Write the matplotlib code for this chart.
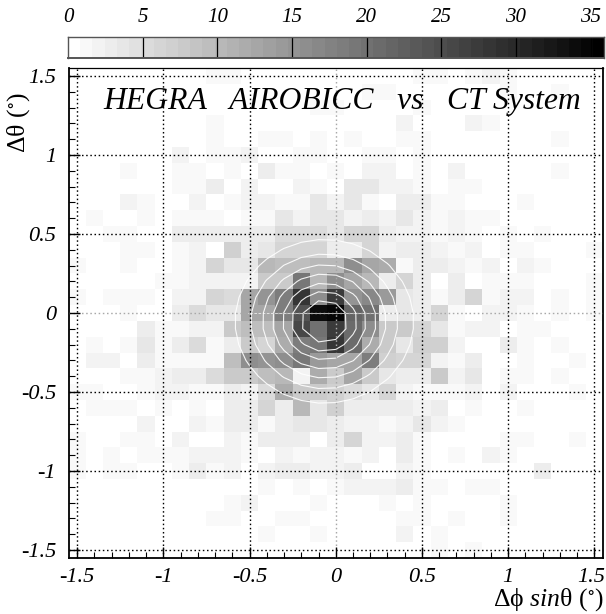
import numpy as np
import matplotlib
matplotlib.use("Agg")
import matplotlib.pyplot as plt
from matplotlib.ticker import MultipleLocator
from matplotlib.transforms import ScaledTranslation

plt.rcParams['font.family'] = ['Liberation Serif', 'DejaVu Serif']
plt.rcParams['mathtext.fontset'] = 'custom'
plt.rcParams['mathtext.rm'] = 'Liberation Serif'
plt.rcParams['mathtext.it'] = 'Liberation Serif:italic'
plt.rcParams['mathtext.fallback'] = 'stix'

# event counts per bin, top row is +1.5 deg, left column is -1.5 deg
counts = [
    [0,0,0,0,0,0,0,0,1,1,0,0,0,0,0,0,0,0,0,0,1,1,0,1,2,1,0,0,0,0,0],
    [0,0,0,0,0,0,0,0,0,0,0,0,0,0,0,0,0,1,1,0,0,0,0,0,0,1,0,0,1,0,0],
    [0,0,0,0,0,0,0,0,0,0,0,0,0,0,1,1,0,0,0,0,1,0,0,0,0,0,0,0,0,0,0],
    [0,0,0,0,0,0,0,0,1,0,0,0,0,0,0,0,0,0,0,2,0,0,0,2,1,0,0,0,0,0,0],
    [0,0,0,0,0,0,0,0,1,0,0,1,1,0,1,0,1,0,0,1,1,0,0,0,0,0,0,0,1,0,0],
    [0,0,0,0,0,0,2,0,1,1,2,0,0,1,1,0,0,1,1,0,1,0,0,0,0,0,0,0,0,0,0],
    [0,0,0,1,0,0,1,1,0,1,0,3,1,1,0,1,0,2,2,0,1,0,2,0,0,0,0,0,1,0,0],
    [0,0,0,0,0,0,1,1,3,0,2,0,0,2,1,0,4,4,2,2,1,0,1,1,0,0,0,0,0,0,0],
    [0,0,0,2,1,0,0,2,0,1,2,2,1,1,4,2,4,1,0,3,3,1,1,0,0,0,1,0,0,0,0],
    [0,1,0,0,1,0,1,1,1,0,1,1,4,2,4,4,2,3,2,4,2,1,2,1,1,0,0,0,0,0,0],
    [0,0,1,1,0,0,3,3,3,3,3,3,5,5,5,4,6,6,3,2,2,1,2,1,0,1,0,1,0,0,0],
    [0,0,0,1,1,0,1,2,0,7,3,4,6,6,6,3,3,6,2,3,3,2,1,2,0,1,1,0,0,0,1],
    [1,0,0,1,0,0,1,2,6,4,4,10,9,9,10,10,16,13,12,1,3,3,2,1,2,0,2,1,0,0,0],
    [0,0,0,0,0,1,1,2,2,2,2,8,8,19,10,16,13,10,3,6,3,0,3,0,1,1,1,0,0,0,1],
    [1,0,1,1,1,0,2,2,6,5,13,15,18,28,16,27,15,17,14,4,3,1,3,6,1,2,2,0,1,0,1],
    [0,0,0,1,0,0,3,5,4,4,13,13,18,24,34,35,22,20,3,4,3,6,1,0,2,2,1,0,1,0,1],
    [0,0,0,0,3,1,1,2,2,8,9,9,13,26,20,27,21,16,8,8,6,4,1,2,2,0,1,1,0,0,0],
    [0,1,0,1,4,1,3,5,1,3,8,6,12,18,19,28,21,12,8,4,7,7,2,0,0,3,1,0,1,0,0],
    [0,2,2,0,3,1,1,1,1,9,16,15,16,19,14,13,13,18,7,6,6,2,1,3,0,0,1,0,0,1,0],
    [0,0,0,1,1,2,3,3,5,8,8,9,10,2,12,8,13,8,4,3,3,8,2,4,0,1,1,0,1,0,0],
    [1,1,0,0,1,2,2,1,1,3,2,5,12,8,8,7,5,4,6,2,1,1,1,2,0,2,0,0,0,1,0],
    [0,1,1,1,0,1,0,1,0,3,3,6,3,10,4,7,3,3,3,3,2,3,0,1,0,0,1,0,0,0,0],
    [0,0,0,0,2,0,0,2,1,3,3,1,3,4,4,3,2,2,1,2,4,2,1,0,0,0,0,0,0,0,0],
    [1,0,0,1,1,0,2,0,0,2,1,3,3,3,0,3,6,2,2,3,1,0,0,0,0,1,1,0,0,1,0],
    [1,0,1,0,1,1,1,2,2,2,1,0,2,1,2,2,1,2,0,3,1,0,1,0,2,1,0,0,0,0,0],
    [1,0,1,1,0,0,1,3,1,2,0,2,3,3,2,2,3,0,0,2,1,0,0,0,0,0,0,3,0,0,0],
    [0,0,0,0,0,0,0,0,0,0,0,1,0,1,0,1,2,2,2,3,1,1,0,1,1,0,0,0,0,0,0],
    [0,0,0,0,0,0,0,0,0,1,2,0,0,0,1,0,0,0,1,0,1,0,0,0,0,1,0,0,0,0,0],
    [0,0,0,0,0,0,0,0,1,1,0,0,1,1,0,0,0,0,0,1,1,0,1,0,0,1,0,0,0,0,0],
    [0,0,0,0,0,0,0,0,0,0,0,1,0,0,1,0,0,0,0,2,0,1,0,0,0,0,0,0,0,0,0],
    [0,0,0,0,0,0,0,0,0,0,0,0,0,0,0,0,0,0,0,0,0,1,0,1,0,0,0,0,0,0,0],
]
bin_edges = np.arange(-1.55, 1.56, 0.1)
bin_centers = np.arange(-1.5, 1.51, 0.1)
tick_values = [-1.5, -1, -0.5, 0, 0.5, 1, 1.5]
tick_labels = ['-1.5', '-1', '-0.5', '0', '0.5', '1', '1.5']
bar_ticks = [0, 5, 10, 15, 20, 25, 30, 35]
# fitted point spread rings
ring_center = [-0.066, -0.053]
ring_radii = [0.135, 0.19, 0.242, 0.3, 0.358, 0.426, 0.518]

W, H = 606, 614
n_levels = 44
vmax = 36
cmap = plt.get_cmap('gray_r', n_levels)

fig = plt.figure(figsize=(W / 100, H / 100), dpi=100)
ax = fig.add_axes([68.5 / W, (H - 558) / H, (603 - 68.5) / W, (558 - 68) / H])
cax = fig.add_axes([68 / W, (H - 58) / H, (604 - 68) / W, 21 / H])

# main histogram
ax.pcolormesh(bin_edges, bin_edges, np.array(counts)[::-1], cmap=cmap, vmin=0, vmax=vmax)

xx, yy = np.meshgrid(bin_centers, bin_centers)
dist = np.hypot(xx - ring_center[0], yy - ring_center[1])
ax.contour(xx, yy, dist, levels=ring_radii, colors='white', linewidths=0.8, alpha=0.9)
ax.plot([ring_center[0] - ring_radii[-1] * 0.85, ring_center[0] + ring_radii[-1] * 0.85], [0, 0],
        color='white', linewidth=0.6, alpha=0.8)

ax.set_xlim(-1.55, 1.55)
ax.set_ylim(-1.55, 1.55)
ax.set_xticks(tick_values)
ax.set_xticklabels(tick_labels, style='italic', fontsize=16)
ax.set_yticks(tick_values)
ax.set_yticklabels(tick_labels, style='italic', fontsize=16)
ax.xaxis.set_minor_locator(MultipleLocator(0.1))
ax.yaxis.set_minor_locator(MultipleLocator(0.1))
ax.tick_params(which='major', direction='in', length=8, width=1, pad=7)
ax.tick_params(axis='y', which='major', pad=9)
ax.tick_params(which='minor', direction='in', length=4.3, width=0.8)
ax.grid(True, which='major', color='black', linewidth=1.0, linestyle=(0, (1.1, 1.9)))
ax.set_axisbelow(False)
for line in [ax.xaxis.get_gridlines()[3], ax.yaxis.get_gridlines()[3]]:
    line.set_color('#a8a8a8')
for side in ['left', 'bottom', 'right']:
    ax.spines[side].set_linewidth(1.3)
ax.spines['top'].set_linewidth(0.9)

# keep the last label inside the picture
last = ax.get_xticklabels()[-1]
last.set_transform(last.get_transform() + ScaledTranslation(-3 / 100, 0, fig.dpi_scale_trans))

ax.text(0.5117, 0.931, 'HEGRA   AIROBICC   vs   CT System', transform=ax.transAxes,
        ha='center', va='center', style='italic', fontsize=22.8)

fig.text(603 / W, 1 - 600 / H, r'$\mathrm{\Delta\phi}$ $\mathit{sin}\mathrm{\theta}$ $\mathit{(}^{\circ}\mathit{)}$',
         ha='right', va='center', fontsize=18.5)
fig.text(19 / W, 1 - 93 / H, r'$\mathrm{\Delta\theta}$ $\mathit{(}^{\circ}\mathit{)}$',
         ha='center', va='top', rotation=90, fontsize=18.5)

# colour scale
scale_edges = np.linspace(0, vmax, n_levels + 1)
cax.pcolormesh(scale_edges, [0, 1], ((scale_edges[:-1] + scale_edges[1:]) / 2)[None, :],
               cmap=cmap, vmin=0, vmax=vmax)
cax.set_xlim(0, 35.9)
cax.set_ylim(0, 1)
cax.set_yticks([])
cax.xaxis.tick_top()
cax.set_xticks(bar_ticks)
cax.set_xticklabels([str(v) for v in bar_ticks], style='italic', fontsize=15)
cax.tick_params(axis='x', length=0, pad=7)
cax.vlines(bar_ticks[1:], 0, 1, color='black', linewidth=0.9)
for side in cax.spines:
    cax.spines[side].set_color('#555555')
    cax.spines[side].set_linewidth(1.0)
cax.spines['bottom'].set_linewidth(1.4)

fig.savefig('out.png', dpi=100)
